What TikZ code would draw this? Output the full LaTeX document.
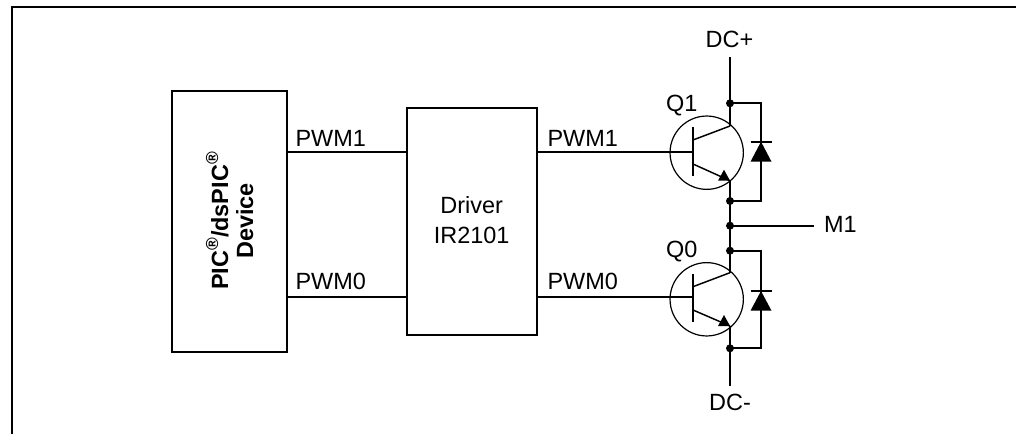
\documentclass[tikz,border=0pt]{standalone}
\usepackage{fontspec}
\setmainfont{Liberation Sans}
\usetikzlibrary{calc}
\usetikzlibrary{positioning}
\tikzset{
  blockbox/.style={draw=black,line width=1.7pt,outer sep=0pt,inner sep=0pt},
  wire/.style={draw=black,line width=1.5pt},
  thinwire/.style={draw=black,line width=1.1pt},
  jdot/.style={circle,fill=black,inner sep=0pt,minimum size=6pt},
  tcircle/.style={circle,draw=black,line width=0.9pt,inner sep=0pt,outer sep=0pt,minimum size=55pt},
  lbl/.style={inner sep=0pt,outer sep=0pt,font=\fontsize{17.6pt}{22pt}\selectfont},
  lblw/.style={lbl,anchor=base west},
  lblc/.style={lbl,anchor=base}
}
\newcommand{\regmark}{\raisebox{0.42em}{\fontsize{13pt}{13pt}\selectfont\textregistered}}
\begin{document}
\begin{tikzpicture}[line cap=butt,line join=miter,x=0.75pt,y=-0.75pt]
      \useasboundingbox (0,0) rectangle (1016,434);
      \draw[line width=1.7pt] (12,434) -- (12,6.7) -- (1016,6.7);
      \node[blockbox,minimum width=86.5pt,minimum height=195.5pt] (mcu) at (229.4,221.4) {};
      \node[blockbox,minimum width=97.7pt,minimum height=170.3pt] (driver) at (471.9,221.5) {};
      \node[lbl,rotate=90,anchor=base,align=center] (mcutext) at (228,221)
        {\textbf{PIC\regmark/dsPIC\regmark}};
      \node[lbl,rotate=90,anchor=base] (mcutexttwo) at (253,221) {\textbf{Device}};
      \node[lblc] (drivertext) at (471.7,214) {Driver};
      \node[lblc] (drivertexttwo) at (471.7,244) {IR2101};
      \coordinate (pwmonea) at (mcu.east |- 0,151.7);
      \coordinate (pwmzeroa) at (mcu.east |- 0,297);
      \coordinate (pwmoneb) at (driver.east |- 0,151.7);
      \coordinate (pwmzerob) at (driver.east |- 0,297);
      \draw[wire] (pwmonea) -- (driver.west |- pwmonea);
      \draw[wire] (pwmzeroa) -- (driver.west |- pwmzeroa);
      \node[lblw] (lblonea) at (295.5,146.7) {PWM1};
      \node[lblw] (lblzeroa) at (295.5,290) {PWM0};
      \node[lblw] (lbloneb) at (547.5,146.7) {PWM1};
      \node[lblw] (lblzerob) at (547.5,290) {PWM0};
      % upper transistor
      \node[tcircle] (qone) at (706.7,152.7) {};
      \coordinate (qonebt) at (693,127);
      \coordinate (qonebb) at (693,175.7);
      \coordinate (qoneb) at (693,151.7);
      \coordinate (qonec) at (730,126);
      \coordinate (qonee) at (730,180.7);
      \draw[wire] (pwmoneb) -- (qoneb);
      \draw[wire] (qonebt) -- (qonebb);
      \draw[thinwire] (693,140) -- (qonec);
      \draw[thinwire] (693,164) -- (qonee);
      \fill (qonee) -- ++(-12,0) -- ++(6,-11) -- cycle;
      % lower transistor
      \node[tcircle] (qzero) at (706.7,299.3) {};
      \coordinate (qzerobt) at (693,274.3);
      \coordinate (qzerobb) at (693,322.3);
      \coordinate (qzerob) at (693,297);
      \coordinate (qzeroc) at (730,272.7);
      \coordinate (qzeroe) at (730,326);
      \draw[wire] (pwmzerob) -- (qzerob);
      \draw[wire] (qzerobt) -- (qzerobb);
      \draw[thinwire] (693,286.7) -- (qzeroc);
      \draw[thinwire] (693,310) -- (qzeroe);
      \fill (qzeroe) -- ++(-12,0) -- ++(6,-11) -- cycle;
      % rail
      \coordinate (railtop) at (730,57.3);
      \coordinate (railbot) at (730,386);
      \node[jdot] (dotc) at (730,103.3) {};
      \node[jdot] (dotd) at (730,201) {};
      \node[jdot] (dotm) at (730,225.7) {};
      \node[jdot] (dote) at (730,250.7) {};
      \node[jdot] (dotf) at (730,348.3) {};
      \coordinate (mend) at (814,225.7);
      \draw[wire] (railtop) -- (qonec);
      \draw[wire] (qonee) -- (qzeroc);
      \draw[wire] (qzeroe) -- (railbot);
      \draw[wire] (dotm.center) -- (mend);
      % diodes
      \draw[wire] (dotc.center) -- (761,103.3) -- (761,201) -- (dotd.center);
      \fill (761,141.7) -- (771.5,161.7) -- (750.5,161.7) -- cycle;
      \draw[wire] (750.5,141.7) -- (771.5,141.7);
      \draw[wire] (dote.center) -- (761,250.7) -- (761,348.3) -- (dotf.center);
      \fill (761,291) -- (771.5,310.7) -- (750.5,310.7) -- cycle;
      \draw[wire] (750.5,291) -- (771.5,291);
      \node[lblc] (dcplus) at (729.5,48) {DC+};
      \node[lblc] (dcminus) at (730,410) {DC-};
      \node[lblw] (qonetext) at (666,111.7) {Q1};
      \node[lblw] (qzerotext) at (666,257.7) {Q0};
      \node[lblw] (mtext) at (824,232.7) {M1};
    \end{tikzpicture}
\end{document}
